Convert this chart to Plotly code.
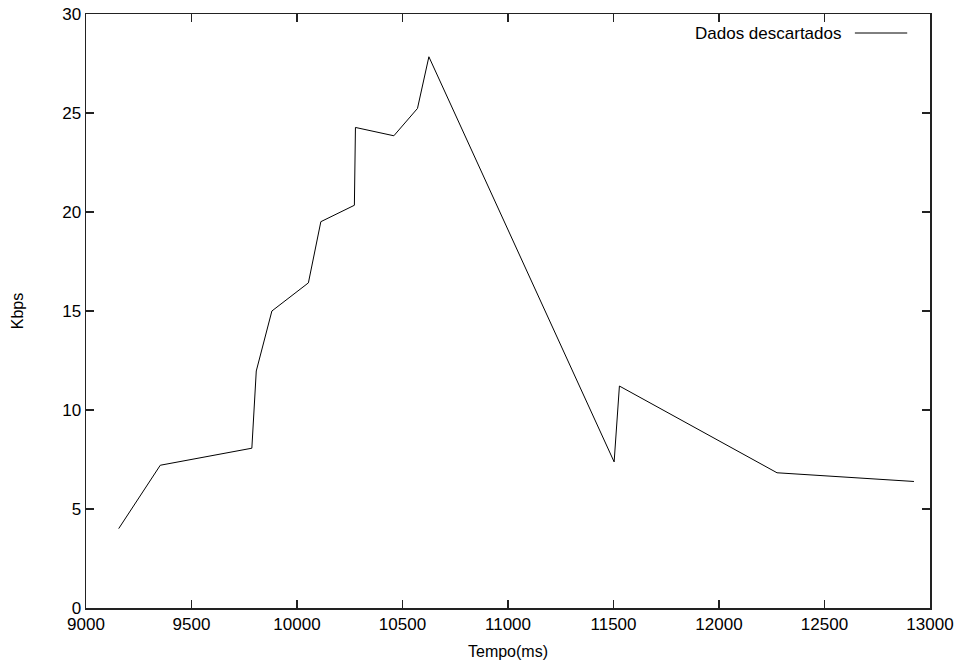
import plotly.graph_objects as go

tempo_ms = [9155, 9352, 9786, 9807, 9881, 10054, 10113, 10272, 10277, 10459, 10571, 10625, 11503, 11528, 12275, 12924]
kbps = [4.01, 7.21, 8.07, 11.97, 15.0, 16.42, 19.51, 20.34, 24.27, 23.85, 25.23, 27.84, 7.38, 11.21, 6.83, 6.39]
series_name = "Dados descartados"
x_ticks = list(range(9000, 13001, 500))
y_ticks = list(range(0, 31, 5))

font_family = "Liberation Sans, Arial, Helvetica, sans-serif"

fig = go.Figure()
fig.add_trace(go.Scatter(x=tempo_ms, y=kbps, mode="lines", name=series_name,
                         line=dict(color="black", width=1), showlegend=False))

axis_common = dict(showgrid=False, zeroline=False, showline=True, mirror="allticks",
                   linecolor="#222222", linewidth=1.5, ticks="inside", ticklen=8,
                   tickwidth=1.2, tickcolor="#222222", ticklabeloverflow="allow",
                   automargin=False,
                   tickfont=dict(family=font_family, size=17, color="black"))

fig.update_layout(
    width=966, height=670,
    margin=dict(l=86, r=36, t=14, b=62),
    plot_bgcolor="white", paper_bgcolor="white",
    font=dict(family=font_family, size=16, color="black"),
    xaxis=dict(range=[9000, 13000], tickvals=x_ticks, ticktext=[str(v) for v in x_ticks],
               title=dict(text="Tempo(ms)", standoff=13, font=dict(size=16)), **axis_common),
    yaxis=dict(range=[0, 30], tickvals=y_ticks, ticktext=[str(v) for v in y_ticks],
               title=dict(text="Kbps", standoff=34, font=dict(size=16)), **axis_common),
)

# legend (text followed by sample line, gnuplot style)
fig.add_annotation(xref="paper", yref="paper", x=0.897, y=0.968, xanchor="right", yanchor="middle",
                   text=series_name, showarrow=False, font=dict(family=font_family, size=17))
fig.add_shape(type="line", xref="paper", yref="paper", x0=0.911, x1=0.973, y0=0.968, y1=0.968,
              line=dict(color="black", width=1))

fig.write_html("out.html", config={"displayModeBar": False, "staticPlot": True},
               post_script="document.body.style.margin='0';document.body.style.overflow='hidden';")
